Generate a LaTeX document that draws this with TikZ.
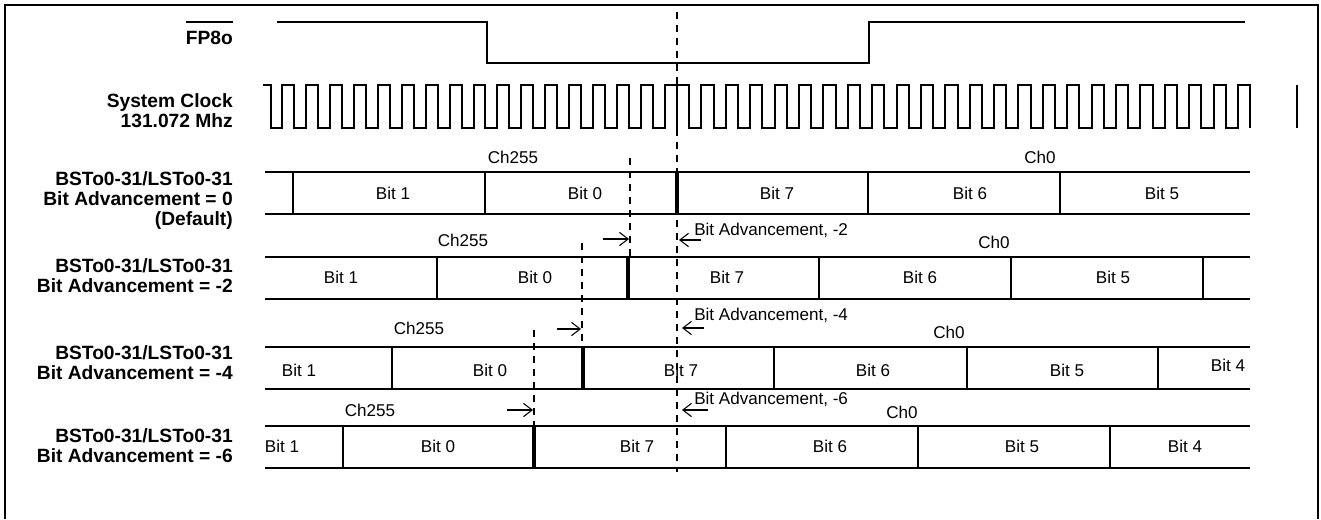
\documentclass[tikz,border=0pt]{standalone}
\usepackage{fontspec}
\setmainfont{Liberation Sans}
\usetikzlibrary{arrows.meta}
\begin{document}
\begin{tikzpicture}[
        x=0.75pt, y=-0.75pt,
        wire/.style={line width=1.5pt},
        chedge/.style={line width=3pt},
        marker/.style={line width=1.5pt, dash pattern=on 5.25pt off 4.5pt},
        sig/.style={font=\fontsize{14.4}{15}\selectfont\bfseries, align=right, anchor=east, inner sep=0pt},
        msgtext/.style={font=\fontsize{12.8}{14}\selectfont, inner sep=0pt},
        advarrow/.style={-{Straight Barb[length=6.5pt,width=10pt]}, line width=0.8pt}
    ]
        \useasboundingbox (0,0) rectangle (1321,519);

        % Frame
        \draw[wire] (5,519) -- (5,5) -- (1318,5) -- (1318,519);

        % Signal names
        \node[sig] (fp) at (233,38) {FP8o};
        \draw[line width=1pt] ([yshift=6.75pt]fp.north west) -- ([yshift=6.75pt]fp.north east);
        \node[sig] (clk) at (233,111) {System Clock\\131.072 Mhz};
        \node[sig] (adv0) at (233,201) {BSTo0-31/LSTo0-31\\Bit Advancement = 0\\(Default)};
        \node[sig] (adv2) at (233,276) {BSTo0-31/LSTo0-31\\Bit Advancement = -2};
        \node[sig] (adv4) at (233,363) {BSTo0-31/LSTo0-31\\Bit Advancement = -4};
        \node[sig] (adv6) at (233,446) {BSTo0-31/LSTo0-31\\Bit Advancement = -6};

        % Frame pulse
        \draw[wire] (277,22) -- (487,22) -- (487,63) -- (869,63) -- (869,22) -- (1245,22);

        % System clock
        \draw[wire] (263,85) -- (271,85) -- (271,128)
            foreach \k in {0,...,16} { -- ({282+\k*23.94},128) -- ++(0,-43) -- ++(11.97,0) -- ++(0,43) }
            foreach \k in {0,...,23} { -- ({677+\k*24.39},128) -- ++(0,-43) -- ++(12.2,0) -- ++(0,43) };
        \draw[wire] (1297,85) -- (1297,128);

        % Bit Advancement = 0
        \draw[wire] (265,172) -- (1250,172) (265,214) -- (1250,214);
        \foreach \xd in {293,485,868,1060} \draw[wire] (\xd,172) -- (\xd,214);
        \draw[chedge] (677,172) -- (677,214);
        \foreach \xt/\n in {393/1,585/0,777/7,970/6,1162/5}
            \node[msgtext] (a0b\n) at (\xt,193) {Bit \n};
        \node[msgtext] (a0ch255) at (513,157) {Ch255};
        \node[msgtext] (a0ch0) at (1040,157) {Ch0};

        % Bit Advancement = -2
        \draw[wire] (265,257) -- (1250,257) (265,299) -- (1250,299);
        \foreach \xd in {437,819,1011,1203} \draw[wire] (\xd,257) -- (\xd,299);
        \draw[chedge] (628,257) -- (628,299);
        \foreach \xt/\n in {341/1,535/0,727/7,920/6,1113/5}
            \node[msgtext] (a2b\n) at (\xt,277) {Bit \n};
        \node[msgtext] (a2ch255) at (463,240) {Ch255};
        \node[msgtext] (a2ch0) at (994,242) {Ch0};

        % Bit Advancement = -4
        \draw[wire] (265,347) -- (1250,347) (265,389) -- (1250,389);
        \foreach \xd in {392,774,967,1158} \draw[wire] (\xd,347) -- (\xd,389);
        \draw[chedge] (583,347) -- (583,389);
        \foreach \xt/\n in {299/1,490/0,681/7,873/6,1067/5}
            \node[msgtext] (a4b\n) at (\xt,370) {Bit \n};
        \node[msgtext] (a4b4) at (1228,365) {Bit 4};
        \node[msgtext] (a4ch255) at (419,328) {Ch255};
        \node[msgtext] (a4ch0) at (949,332) {Ch0};

        % Bit Advancement = -6
        \draw[wire] (265,426) -- (1250,426) (265,468) -- (1250,468);
        \foreach \xd in {343,726,918,1110} \draw[wire] (\xd,426) -- (\xd,468);
        \draw[chedge] (534,426) -- (534,468);
        \foreach \xt/\n in {282/1,438/0,637/7,830/6,1022/5,1185/4}
            \node[msgtext] (a6b\n) at (\xt,446) {Bit \n};
        \node[msgtext] (a6ch255) at (370,410) {Ch255};
        \node[msgtext] (a6ch0) at (902,412) {Ch0};

        % Channel boundary markers
        \coordinate (m0a) at (677,12);  \coordinate (m0b) at (677,472);
        \coordinate (m2a) at (630,158); \coordinate (m2b) at (630,257);
        \coordinate (m4a) at (582,243); \coordinate (m4b) at (582,347);
        \coordinate (m6a) at (534,330); \coordinate (m6b) at (534,426);
        \draw[marker] (m0a) -- (m0b);
        \draw[marker] (m2a) -- (m2b);
        \draw[marker] (m4a) -- (m4b);
        \draw[marker] (m6a) -- (m6b);

        % Advancement arrows
        \node[msgtext, anchor=west] (t2) at (694,230) {Bit Advancement, -2};
        \draw[advarrow] (603,239) -- (629,239);
        \draw[advarrow] (701,240) -- (679,240);
        \node[msgtext, anchor=west] (t4) at (694,315) {Bit Advancement, -4};
        \draw[advarrow] (557,329) -- (581,329);
        \draw[advarrow] (704,328) -- (682,328);
        \node[msgtext, anchor=west] (t6) at (694,399) {Bit Advancement, -6};
        \draw[advarrow] (507,410) -- (533,410);
        \draw[advarrow] (708,410) -- (682,410);
    \end{tikzpicture}
\end{document}
